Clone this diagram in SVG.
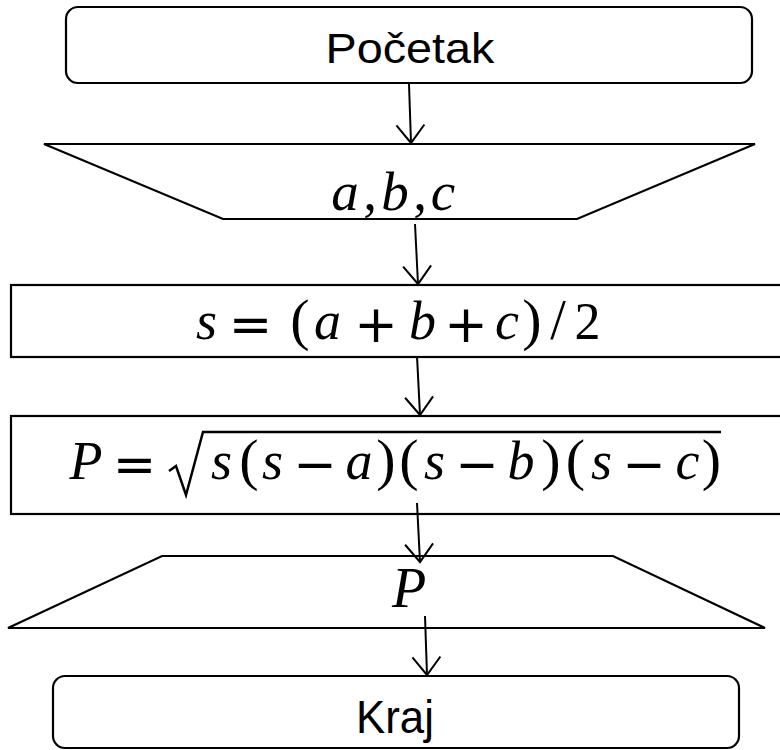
<svg xmlns="http://www.w3.org/2000/svg" width="780" height="750" viewBox="0 0 780 750">
<style>
.shape{fill:#fff;stroke:#000;stroke-width:2.2}
.conn{stroke:#000;stroke-width:2;fill:none}
.lbl{font-family:"Liberation Sans",Arial,sans-serif;fill:#000;text-anchor:middle}
.m{font-family:"Liberation Serif","Times New Roman",serif;fill:#000;text-anchor:middle}
.i{font-style:italic}
.op{font-family:"DejaVu Sans",sans-serif}
</style>
<defs>
<marker id="arr" markerUnits="userSpaceOnUse" markerWidth="40" markerHeight="40" refX="0" refY="0" orient="auto" overflow="visible">
<path d="M-18,-14 L0,0 L-18,14" fill="none" stroke="#000" stroke-width="2"/>
</marker>
</defs>
<g id="start">
<rect class="shape" x="66" y="7" width="686" height="76" rx="12"/>
<text class="lbl" x="410" y="63" font-size="43" textLength="169" lengthAdjust="spacingAndGlyphs">Početak</text>
</g>
<g id="input">
<polygon class="shape" points="44,144 755,144 577,219 223,219"/>
<text class="m" y="210" font-size="55"><tspan class="i" x="345">a</tspan><tspan x="370">,</tspan><tspan class="i" x="395">b</tspan><tspan x="420">,</tspan><tspan class="i" x="443">c</tspan></text>
</g>
<g id="calc-s">
<rect class="shape" x="11" y="285" width="772" height="72"/>
<text class="m" y="339" font-size="54"><tspan class="i" x="206.5">s</tspan><tspan class="op" x="250.5" font-size="52" dy="3">=</tspan><tspan x="300" font-size="58" dy="-3">(</tspan><tspan class="i" x="327.5">a</tspan><tspan class="op" x="376" font-size="52" dy="3">+</tspan><tspan class="i" x="422.5" dy="-3">b</tspan><tspan class="op" x="466" font-size="52" dy="3">+</tspan><tspan class="i" x="507" dy="-3">c</tspan><tspan x="532" font-size="58">)</tspan><tspan x="558" font-size="56">/</tspan><tspan x="587.5" font-size="52">2</tspan></text>
</g>
<g id="calc-p">
<rect class="shape" x="11" y="416" width="772" height="98"/>
<path d="M169,471 L176,466 L186,495 L203,432 L721,432" fill="none" stroke="#000" stroke-width="2.5"/>
<text class="m" y="479" font-size="54"><tspan class="i" x="86">P</tspan><tspan class="op" x="134.5" font-size="52" dy="3">=</tspan><tspan class="i" x="221.5" dy="-3">s</tspan><tspan x="249" font-size="58">(</tspan><tspan class="i" x="272.5">s</tspan><tspan class="op" x="315" font-size="52" dy="3">−</tspan><tspan class="i" x="359" dy="-3">a</tspan><tspan x="386" font-size="58">)</tspan><tspan x="409" font-size="58">(</tspan><tspan class="i" x="434.5">s</tspan><tspan class="op" x="477" font-size="52" dy="3">−</tspan><tspan class="i" x="521" dy="-3">b</tspan><tspan x="551" font-size="58">)</tspan><tspan x="575.5" font-size="58">(</tspan><tspan class="i" x="601.5">s</tspan><tspan class="op" x="644" font-size="52" dy="3">−</tspan><tspan class="i" x="687.5" dy="-3">c</tspan><tspan x="711.5" font-size="58">)</tspan></text>
</g>
<g id="output">
<polygon class="shape" points="162,556 613,556 765,628 8,628"/>
<text class="m i" x="409" y="607" font-size="56">P</text>
</g>
<g id="end">
<rect class="shape" x="53" y="676" width="686" height="72" rx="12"/>
<text class="lbl" x="395" y="733" font-size="46" textLength="78" lengthAdjust="spacingAndGlyphs">Kraj</text>
</g>
<g id="connectors">
<line class="conn" x1="409" y1="84" x2="411" y2="143" marker-end="url(#arr)"/>
<line class="conn" x1="415" y1="224" x2="418" y2="284" marker-end="url(#arr)"/>
<line class="conn" x1="417" y1="356" x2="420" y2="415" marker-end="url(#arr)"/>
<line class="conn" x1="417" y1="503" x2="420" y2="562" marker-end="url(#arr)"/>
<line class="conn" x1="425" y1="616" x2="427" y2="675" marker-end="url(#arr)"/>
</g>
</svg>
